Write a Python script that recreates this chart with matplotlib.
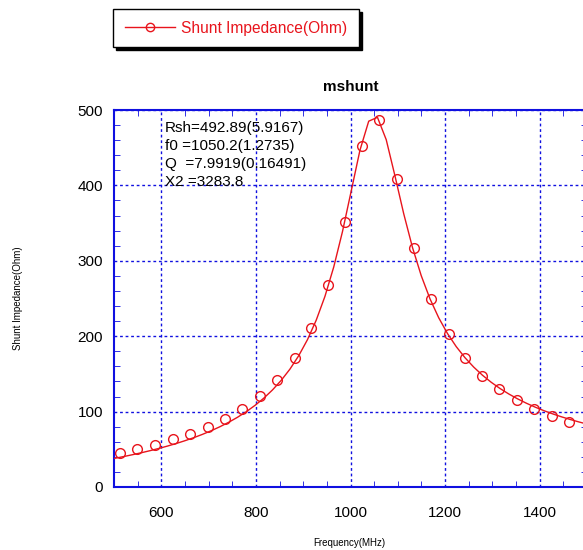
import numpy as np
import matplotlib
matplotlib.use("Agg")
from matplotlib import pyplot as plt
from matplotlib.ticker import MultipleLocator
from matplotlib.lines import Line2D

plt.rcParams['font.family'] = ['Liberation Sans', 'DejaVu Sans']

# measured points
freq = [513, 549, 587, 625, 661, 699, 734, 770, 808, 844, 882, 916, 952, 988,
        1024, 1060, 1098, 1134, 1170, 1208, 1243, 1279, 1315, 1351, 1389, 1425, 1463]
shunt = [45, 50, 56, 64, 70, 80, 90, 103, 121, 142, 171, 211, 268, 351,
         452, 487, 408, 317, 249, 203, 171, 147, 130, 115, 103, 94, 86]

# fit parameters shown on the chart
rsh = 492.89
f0 = 1050.2
q = 7.9919
fit_text = ["Rsh=492.89(5.9167)", "f0 =1050.2(1.2735)", "Q  =7.9919(0.16491)", "X2 =3283.8"]

fig = plt.figure(figsize=(5.83, 5.5), dpi=100)
ax = fig.add_axes([114/583, 1 - 487/550, (587 - 114)/583, (487 - 110)/550])

# fit curve, sampled coarsely like the original program does
ff = np.arange(483.5, 1520, 18.5)
fit = rsh / np.sqrt(1 + q**2 * (ff/f0 - f0/ff)**2)
ax.plot(ff, fit, color='#e8141c', lw=1.0, zorder=3)
ax.plot(freq, shunt, 'o', mfc='none', mec='#e8141c', ms=7, mew=1.0, zorder=4)

ax.set_xlim(500, 1500)
ax.set_ylim(0, 500)
ax.xaxis.set_major_locator(MultipleLocator(200))
ax.xaxis.set_minor_locator(MultipleLocator(50))
ax.yaxis.set_major_locator(MultipleLocator(100))
ax.yaxis.set_minor_locator(MultipleLocator(20))
ax.tick_params(which='both', direction='in', top=True, right=True, color='#1010e0',
               labelsize=11)
ax.tick_params(axis='x', pad=14)
ax.tick_params(axis='y', pad=8)
ax.tick_params(which='major', length=0)
ax.tick_params(which='minor', length=4)
for s in ax.spines.values():
    s.set_color('#1010e0')
    s.set_linewidth(1.5)
ax.grid(True, which='major', color='#1010e0', ls=(0, (2, 2)), lw=1.0)

ax.set_title("mshunt", fontsize=11, fontweight='bold', pad=14)
fig.text(18/583, 1 - 298/550, "Shunt Impedance(Ohm)", rotation=90, fontsize=7,
         ha='center', va='center')
fig.text(349/583, 1 - 543/550, "Frequency(MHz)", fontsize=7, ha='center', va='center')

for i, t in enumerate(fit_text):
    fig.text(165/583, 1 - (128 + i*18)/550, t, fontsize=11, ha='left', va='center',
             zorder=5)

# legend with shadow
h = Line2D([], [], color='#e8141c', lw=1.0, marker='o', mfc='none', mec='#e8141c', ms=6)
leg = fig.legend([h], ["Shunt Impedance(Ohm)"], loc='center',
                 bbox_to_anchor=(236/583, 1 - 28/550), fontsize=11.2, frameon=True,
                 fancybox=False, shadow={'color': 'black', 'alpha': 1.0},
                 edgecolor='black', handlelength=3.2, handletextpad=0.4,
                 borderpad=0.75, borderaxespad=0)
leg.get_frame().set_linewidth(1.0)
for t in leg.get_texts():
    t.set_color('#e8141c')

fig.savefig("out.png", dpi=100)
